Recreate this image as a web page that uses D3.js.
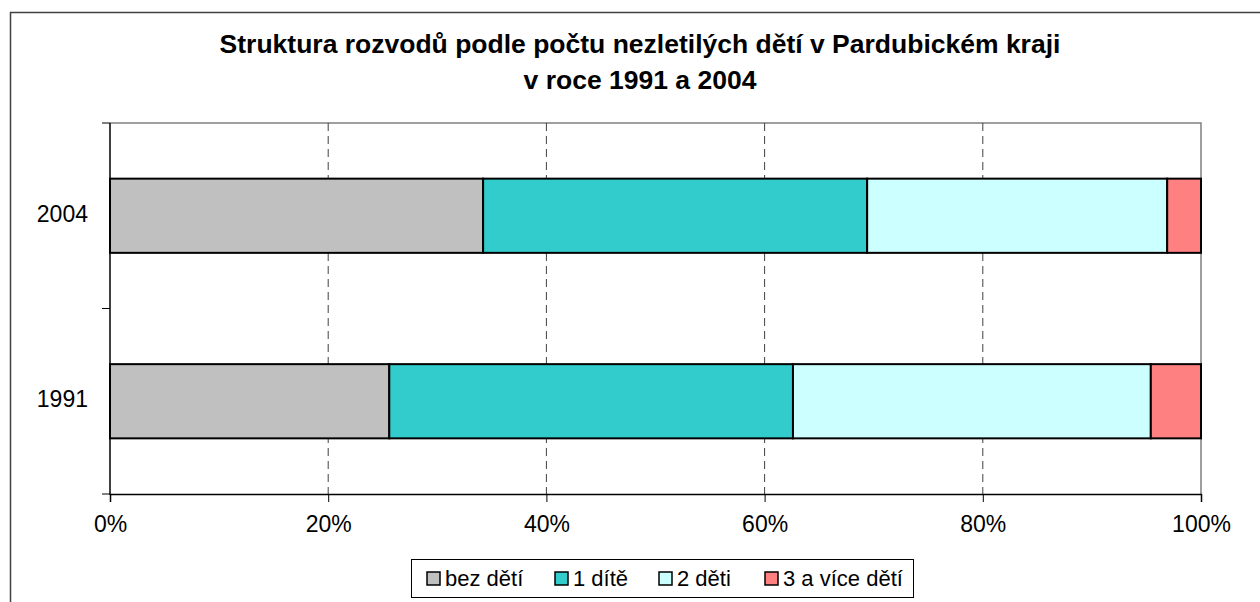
<!DOCTYPE html>
<html>
<head>
<meta charset="utf-8">
<script src="https://cdn.jsdelivr.net/npm/d3@7"></script>
<style>
  body { margin: 0; background: #fff; }
  svg text { font-family: "Liberation Sans", Arial, sans-serif; fill: #000; }
</style>
</head>
<body>
<div id="chart"></div>
<script>
// data (percent shares)
var years = ['2004', '1991'];
var groups = ['bez dětí', '1 dítě', '2 děti', '3 a více dětí'];
var values2004 = [34.2, 35.2, 27.5, 3.1];
var values1991 = [25.6, 37.0, 32.8, 4.6];
var xTicks = [0, 20, 40, 60, 80, 100];
var colors = ['#C0C0C0', '#33CCCC', '#CCFFFF', '#FF8080'];
var titleLines = ['Struktura rozvodů podle počtu nezletilých dětí v Pardubickém kraji', 'v roce 1991 a 2004'];

var W = 1260, H = 602;
var m = {left: 110, right: 1201, top: 123, bottom: 494};

var svg = d3.select('#chart').append('svg').attr('width', W).attr('height', H);

// chart frame
svg.append('rect').attr('x', 10.5).attr('y', 12.5).attr('width', 1300).attr('height', 700)
  .attr('fill', '#fff').attr('stroke', '#404040').attr('stroke-width', 1.5);

// title
svg.append('g').selectAll('text').data(titleLines).enter().append('text')
  .attr('x', 640).attr('y', function (d, i) { return 53 + i * 36; })
  .attr('text-anchor', 'middle').style('font-size', '26.5px').style('font-weight', 'bold')
  .text(function (d) { return d; });

var x = d3.scaleLinear().domain([0, 100]).range([m.left, m.right]);
var y = d3.scaleBand().domain(years).range([m.top, m.bottom]).paddingInner(0.6).paddingOuter(0.3);
var yEdge = d3.scaleBand().domain(years).range([m.top, m.bottom]);

// plot border (top and right, gray)
svg.append('path')
  .attr('d', 'M' + m.left + ',' + m.top + 'H' + m.right + 'V' + m.bottom)
  .attr('fill', 'none').attr('stroke', '#808080').attr('stroke-width', 1.5);

// dashed gridlines
svg.append('g').selectAll('line').data(xTicks.slice(1, -1)).enter().append('line')
  .attr('x1', function (d) { return x(d); }).attr('x2', function (d) { return x(d); })
  .attr('y1', m.top).attr('y2', m.bottom)
  .attr('stroke', '#404040').attr('stroke-width', 1).attr('stroke-dasharray', '8,5');

// stacked bars
var rows = {'2004': values2004, '1991': values1991};
years.forEach(function (yr) {
  var acc = 0;
  var segs = rows[yr].map(function (v, i) {
    var s = {x0: acc, x1: acc + v, c: colors[i]};
    acc += v;
    return s;
  });
  svg.append('g').selectAll('rect').data(segs).enter().append('rect')
    .attr('x', function (d) { return x(d.x0); })
    .attr('width', function (d) { return x(Math.min(d.x1, 100)) - x(d.x0); })
    .attr('y', y(yr)).attr('height', y.bandwidth())
    .attr('fill', function (d) { return d.c; })
    .attr('stroke', '#000').attr('stroke-width', 2);
});

// x axis
var xAxis = svg.append('g').attr('transform', 'translate(0,' + m.bottom + ')')
  .call(d3.axisBottom(x).tickValues(xTicks).tickSize(8).tickPadding(14)
    .tickFormat(function (d) { return d + '%'; }));
xAxis.select('.domain').attr('stroke', '#000').attr('stroke-width', 1.5);
xAxis.selectAll('.tick line').attr('stroke', '#000');
xAxis.selectAll('text').style('font-size', '23px').style('font-family', '"Liberation Sans", Arial, sans-serif');

// y axis: ticks at band edges, labels at band centers
var yAxis = svg.append('g').attr('transform', 'translate(' + m.left + ',0)');
yAxis.append('line').attr('x1', 0).attr('x2', 0).attr('y1', m.top).attr('y2', m.bottom + 1)
  .attr('stroke', '#000').attr('stroke-width', 1.5);
var edges = [m.top].concat(years.map(function (d) { return yEdge(d) + yEdge.bandwidth(); }));
yAxis.selectAll('line.tk').data(edges).enter().append('line').attr('class', 'tk')
  .attr('x1', -8).attr('x2', 0).attr('y1', function (d) { return d; }).attr('y2', function (d) { return d; })
  .attr('stroke', '#000');
yAxis.selectAll('text').data(years).enter().append('text')
  .attr('x', -22).attr('y', function (d) { return y(d) + y.bandwidth() / 2 - 2; })
  .attr('dy', '0.35em').attr('text-anchor', 'end').style('font-size', '23px')
  .text(function (d) { return d; });

// legend
var lg = svg.append('g');
lg.append('rect').attr('x', 411.5).attr('y', 559.5).attr('width', 502).attr('height', 38)
  .attr('fill', '#fff').attr('stroke', '#000').attr('stroke-width', 1);
var lx = [427, 555, 659, 765];
var items = lg.selectAll('g.item').data(groups).enter().append('g').attr('class', 'item')
  .attr('transform', function (d, i) { return 'translate(' + lx[i] + ',0)'; });
items.append('rect').attr('x', 0).attr('y', 572).attr('width', 13).attr('height', 13)
  .attr('fill', function (d, i) { return colors[i]; }).attr('stroke', '#000').attr('stroke-width', 1.5);
items.append('text').attr('x', 18).attr('y', 578).attr('dy', '0.35em')
  .style('font-size', '22px').text(function (d) { return d; });
</script>
</body>
</html>
